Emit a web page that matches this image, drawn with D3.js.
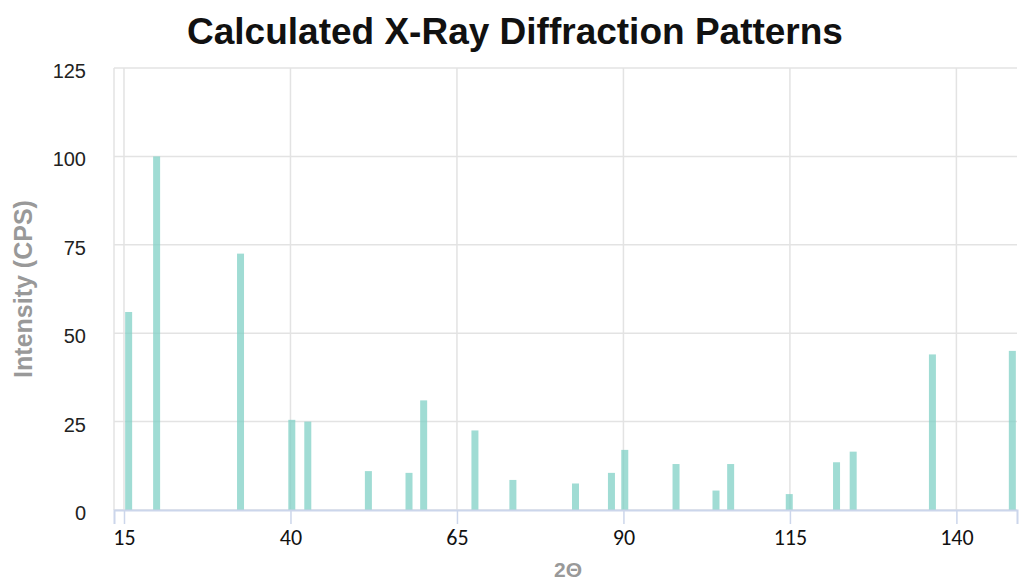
<!DOCTYPE html>
<html>
<head>
<meta charset="utf-8">
<script src="https://cdn.jsdelivr.net/npm/d3@7"></script>
<style>
  body { margin: 0; background: #fff; }
  svg text { font-family: "Liberation Sans", Arial, sans-serif; }
</style>
</head>
<body>
<div id="chart"></div>
<script>
// peak positions (2 theta) and intensities
var twoTheta = [15.7, 19.9, 32.5, 40.2, 42.6, 51.7, 57.8, 60.0, 67.7, 73.4, 82.8, 88.2, 90.2, 97.9, 103.9, 106.1, 114.9, 122.0, 124.5, 136.4, 148.4]
var intensity = [56, 100, 72.5, 25.5, 25, 11, 10.5, 31, 22.5, 8.5, 7.5, 10.5, 17, 13, 5.5, 13, 4.5, 13.5, 16.5, 44, 45]
var xTicks = [15, 40, 65, 90, 115, 140]
var yTicks = [0, 25, 50, 75, 100, 125]

var width = 1019, height = 581
var margin = { top: 68, right: 2, bottom: 71, left: 114 }

var svg = d3.select('#chart').append('svg')
  .attr("width", width)
  .attr("height", height)

var x = d3.scaleLinear()
  .domain([13.5, 149.1])
  .range([margin.left, width - margin.right])

var y = d3.scaleLinear()
  .domain([0, 125])
  .range([height - margin.bottom, margin.top])

// grid
svg.append("g")
  .selectAll("line.h")
  .data(yTicks)
  .enter().append("line")
  .attr("x1", margin.left)
  .attr("x2", width - margin.right)
  .attr("y1", d => y(d))
  .attr("y2", d => y(d))
  .attr("stroke", "#e3e3e3")
  .attr("stroke-width", 1.5)

svg.append("g")
  .selectAll("line.v")
  .data(xTicks)
  .enter().append("line")
  .attr("x1", d => x(d))
  .attr("x2", d => x(d))
  .attr("y1", margin.top)
  .attr("y2", y(0))
  .attr("stroke", "#e3e3e3")
  .attr("stroke-width", 1.5)

svg.append("line")
  .attr("x1", margin.left).attr("x2", margin.left)
  .attr("y1", margin.top).attr("y2", y(0))
  .attr("stroke", "#e3e3e3").attr("stroke-width", 1.5)

// bars
svg.append("g")
  .selectAll("rect")
  .data(twoTheta)
  .enter().append("rect")
  .attr("x", d => x(d) - 3.5)
  .attr("width", 7)
  .attr("y", (d, i) => y(intensity[i]))
  .attr("height", (d, i) => y(0) - y(intensity[i]))
  .attr("fill", "rgb(128,208,198)")
  .attr("fill-opacity", 0.75)

// x axis
var xAxis = svg.append("g")
  .attr("transform", "translate(0," + y(0) + ")")
  .call(d3.axisBottom(x).tickValues(xTicks).tickSize(14).tickPadding(5))
xAxis.select(".domain").attr("stroke", "#ccd6eb").attr("stroke-width", 2)
xAxis.selectAll(".tick line").attr("stroke", "#ccd6eb").attr("stroke-width", 1.5)
xAxis.selectAll("text")
  .attr("fill", "#111")
  .style("font-family", "Carlito, 'Open Sans', sans-serif")
  .style("font-size", "22px")

// y axis labels
svg.append("g")
  .selectAll("text")
  .data(yTicks)
  .enter().append("text")
  .attr("x", 86)
  .attr("y", d => y(d) + 3)
  .attr("dy", "0.35em")
  .attr("text-anchor", "end")
  .attr("fill", "#222")
  .style("font-size", "20px")
  .text(d => d)

// titles
svg.append("text")
  .attr("x", 515)
  .attr("y", 44)
  .attr("text-anchor", "middle")
  .attr("fill", "#111")
  .style("font-size", "37px")
  .style("font-weight", "bold")
  .text("Calculated X-Ray Diffraction Patterns")

svg.append("text")
  .attr("x", 568)
  .attr("y", 577)
  .attr("text-anchor", "middle")
  .attr("fill", "#999")
  .style("font-size", "21px")
  .style("font-weight", "bold")
  .text("2Θ")

svg.append("text")
  .attr("transform", "translate(32,289) rotate(-90)")
  .attr("text-anchor", "middle")
  .attr("fill", "#999")
  .style("font-size", "25px")
  .style("font-weight", "bold")
  .text("Intensity (CPS)")
</script>
</body>
</html>
